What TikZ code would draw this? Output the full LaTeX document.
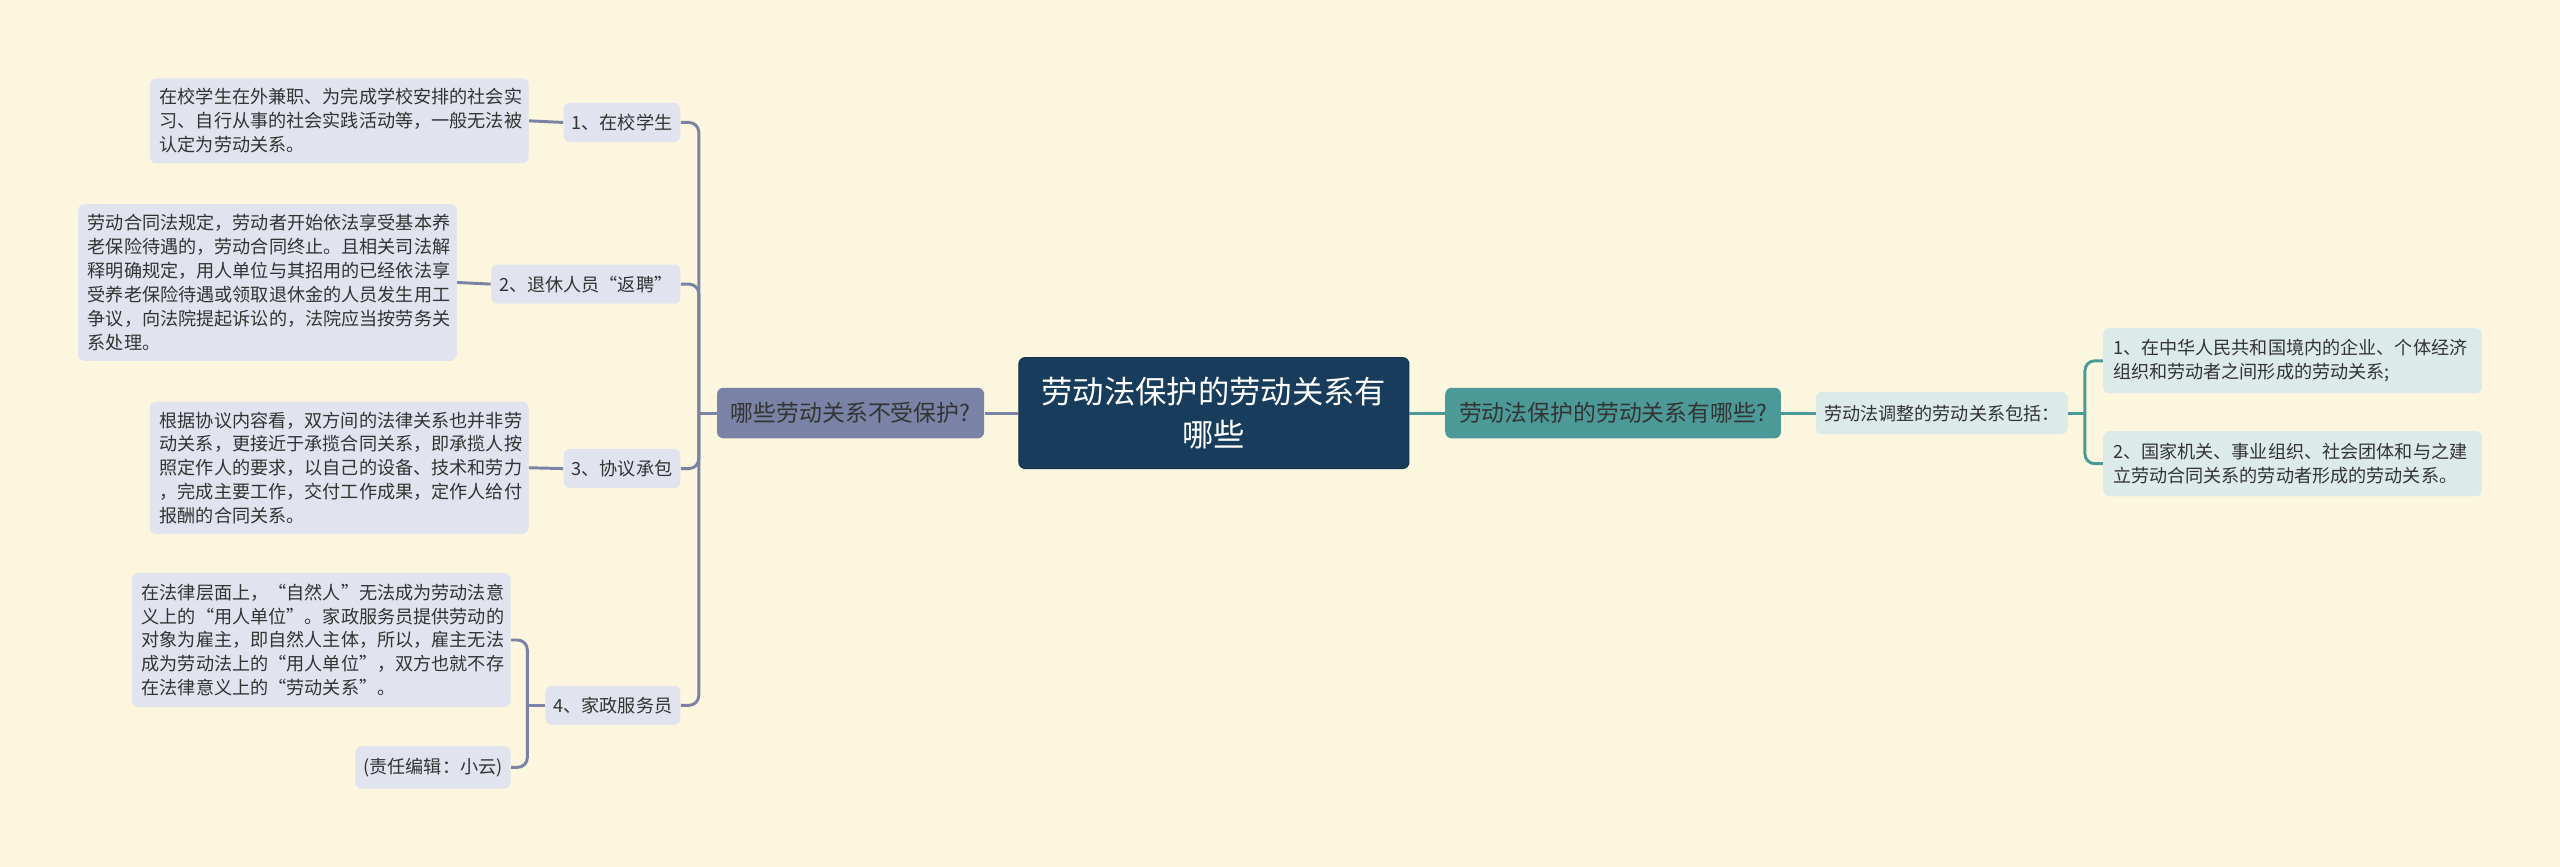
\documentclass[tikz,border=0pt]{standalone}
\usepackage{fontspec}
\setmainfont{Noto Sans CJK SC}
\definecolor{bg}{HTML}{FCF6DF}
\definecolor{navy}{HTML}{173C5C}
\definecolor{lgray}{HTML}{7A83A5}
\definecolor{teal}{HTML}{4C9A97}
\definecolor{lbox}{HTML}{E1E4EE}
\definecolor{rbox}{HTML}{DCEBEA}
\definecolor{txt}{HTML}{333333}
\begin{document}
\begin{tikzpicture}[x=1pt,y=-1pt,
  base/.style={rounded corners=4pt, inner ysep=0pt, text=txt},
  small/.style={font=\fontsize{11.1}{14.6}\selectfont},
  leafL/.style={base, small, fill=lbox, align=left, inner xsep=6pt, text width=220pt},
  subL/.style={base, small, fill=lbox, inner xsep=5pt, minimum height=24pt},
  leafR/.style={base, small, fill=rbox, align=left, inner xsep=6pt, text width=220pt, minimum height=40pt},
  main/.style={base, font=\fontsize{14}{18}\selectfont, inner xsep=8.5pt, minimum height=31pt},
  connL/.style={draw=lgray, line width=1.8pt, rounded corners=6pt},
  connR/.style={draw=teal, line width=1.8pt, rounded corners=6pt}
]
\fill[bg] (0,0) rectangle (1568,531);
\useasboundingbox (0,0) rectangle (1568,531);

% central
\node[base, fill=navy, draw=navy!80!black, line width=0.6pt, text=white, align=center,
  minimum width=239pt, minimum height=68pt, font=\fontsize{19.2}{26}\selectfont]
  (c) at (743.5,253) {劳动法保护的劳动关系有\\哪些};

% main nodes
\node[main, fill=lgray, anchor=east] (lm) at (603,253) {哪些劳动关系不受保护?};
\node[main, fill=teal, anchor=west] (rm) at (885,253) {劳动法保护的劳动关系有哪些?};

\draw[connL] (c.west) -- (lm.east);
\draw[connR] (c.east) -- (rm.west);

% right side
\node[base, small, fill=rbox, inner xsep=5pt, minimum height=26pt, anchor=west] (rs) at (1112,253) {劳动法调整的劳动关系包括：};
\draw[connR] (rm.east) -- (rs.west);
\node[leafR, anchor=west] (r1) at (1288,221) {1、在中华人民共和国境内的企业、个体经济\\组织和劳动者之间形成的劳动关系;};
\node[leafR, anchor=west] (r2) at (1288,284) {2、国家机关、事业组织、社会团体和与之建\\立劳动合同关系的劳动者形成的劳动关系。};
\coordinate (jr) at (1277,253);
\draw[connR] (rs.east) -- (jr);
\draw[connR] (jr) |- (r1.west);
\draw[connR] (jr) |- (r2.west);

% left side sub nodes
\node[subL, anchor=east] (s1) at (417,75) {1、在校学生};
\node[subL, anchor=east] (s2) at (417,174) {2、退休人员“返聘”};
\node[subL, anchor=east] (s3) at (417,287) {3、协议承包};
\node[subL, anchor=east] (s4) at (417,432) {4、家政服务员};
\coordinate (jl) at (428,253);
\draw[connL] (lm.west) -- (jl);
\draw[connL] (jl) |- (s1.east);
\draw[connL] (jl) |- (s2.east);
\draw[connL] (jl) |- (s3.east);
\draw[connL] (jl) |- (s4.east);

% left leaves
\node[leafL, minimum height=52pt, anchor=east] (l1) at (324,74) {在校学生在外兼职、为完成学校安排的社会实\\习、自行从事的社会实践活动等，一般无法被\\认定为劳动关系。};
\node[leafL, minimum height=96pt, anchor=east] (l2) at (280,173) {劳动合同法规定，劳动者开始依法享受基本养\\老保险待遇的，劳动合同终止。且相关司法解\\释明确规定，用人单位与其招用的已经依法享\\受养老保险待遇或领取退休金的人员发生用工\\争议，向法院提起诉讼的，法院应当按劳务关\\系处理。};
\node[leafL, minimum height=81pt, anchor=east] (l3) at (324,286.5) {根据协议内容看，双方间的法律关系也并非劳\\动关系，更接近于承揽合同关系，即承揽人按\\照定作人的要求，以自己的设备、技术和劳力\\，完成主要工作，交付工作成果，定作人给付\\报酬的合同关系。};
\node[leafL, minimum height=82pt, anchor=east] (l4) at (313,392) {在法律层面上，“自然人”无法成为劳动法意\\义上的“用人单位”。家政服务员提供劳动的\\对象为雇主，即自然人主体，所以，雇主无法\\成为劳动法上的“用人单位”，双方也就不存\\在法律意义上的“劳动关系”。};
\node[subL, minimum height=26pt, anchor=east] (l5) at (313,470) {(责任编辑：小云)};

\draw[connL] (l1.east) -- (s1.west);
\draw[connL] (l2.east) -- (s2.west);
\draw[connL] (l3.east) -- (s3.west);
\coordinate (j4) at (323,432);
\draw[connL] (s4.west) -- (j4);
\draw[connL] (j4) |- (l4.east);
\draw[connL] (j4) |- (l5.east);
\end{tikzpicture}
\end{document}
